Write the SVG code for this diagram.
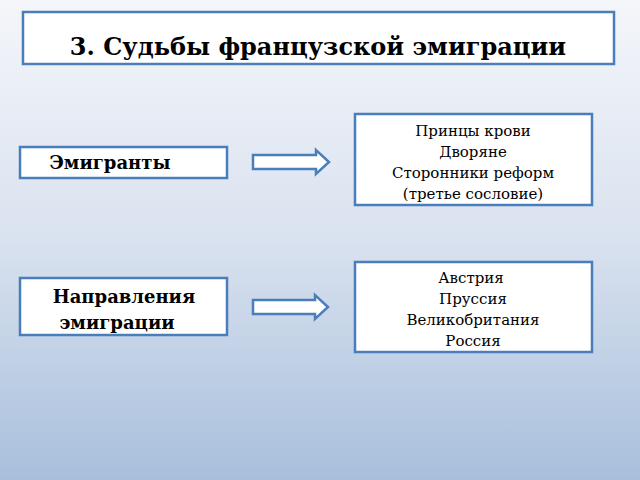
<svg xmlns="http://www.w3.org/2000/svg" width="640" height="480" viewBox="0 0 640 480">
<defs>
<linearGradient id="bg" x1="0" y1="0" x2="0" y2="1">
<stop offset="0" stop-color="#f4f6fa"/><stop offset="0.5" stop-color="#d9e2ef"/><stop offset="1" stop-color="#a8bfdc"/>
</linearGradient>
</defs>
<style>
.box{fill:#fff;stroke:#4a7ebb;stroke-width:2.5}
.arr{fill:#fff;stroke:#4a7ebb;stroke-width:2.5;stroke-linejoin:miter}
text{font-family:"DejaVu Serif","Liberation Serif",serif;fill:#000;text-anchor:middle}
.b{font-weight:bold}
.t{font-size:15px}
</style>
<rect width="640" height="480" fill="url(#bg)"/>
<g id="title"><rect class="box" x="23" y="12" width="591" height="52"/><text class="b" x="318" y="55" font-size="24">3. Судьбы французской эмиграции</text></g>
<g id="emigrants"><rect class="box" x="20" y="147" width="207" height="31"/><text class="b" x="110" y="169" font-size="18">Эмигранты</text></g>
<g id="groups"><rect class="box" x="355" y="114" width="237" height="91"/>
<text class="t" x="473" y="136">Принцы крови</text><text class="t" x="473" y="157">Дворяне</text><text class="t" x="473" y="178">Сторонники реформ</text><text class="t" x="473" y="199">(третье сословие)</text></g>
<g id="directions"><rect class="box" x="20" y="278" width="207" height="57"/><text class="b" x="124" y="303" font-size="18">Направления</text><text class="b" x="117" y="329" font-size="18">эмиграции</text></g>
<g id="countries"><rect class="box" x="355" y="262" width="237" height="90"/>
<text class="t" x="471" y="283">Австрия</text><text class="t" x="473" y="304">Пруссия</text><text class="t" x="473" y="325">Великобритания</text><text class="t" x="473" y="346">Россия</text></g>
<g id="connectors">
<path class="arr" d="M253,155 H316 V150 L329,162 L316,174 V169 H253 Z"/>
<path class="arr" d="M253,300 H315 V295 L328,307 L315,319 V314 H253 Z"/>
</g>
</svg>
